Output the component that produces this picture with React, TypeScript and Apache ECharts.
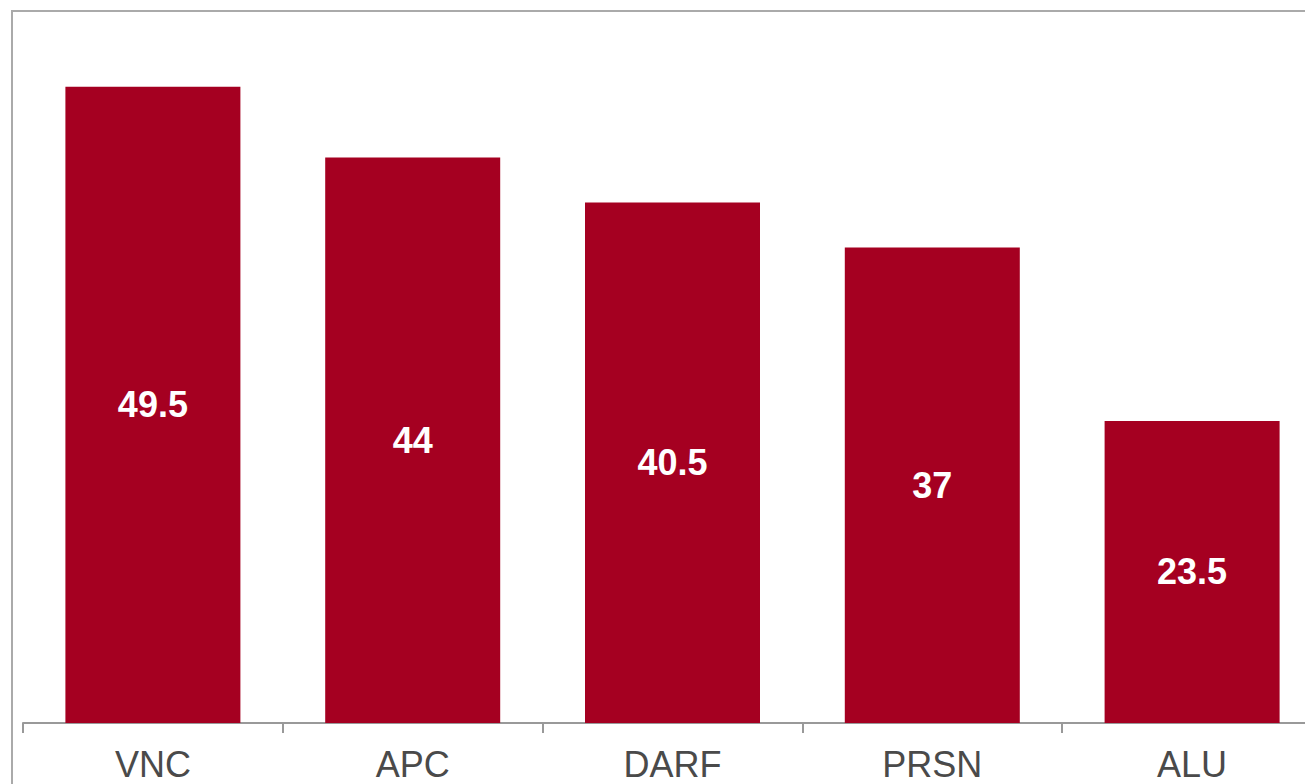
import React, { useEffect, useRef } from "react";
import * as echarts from "echarts";

const categories = ["VNC", "APC", "DARF", "PRSN", "ALU"];
const values = [49.5, 44, 40.5, 37, 23.5];

export default function App() {
  const ref = useRef<HTMLDivElement>(null);
  useEffect(() => {
    const chart = echarts.init(ref.current!, null, { renderer: "svg" });
    chart.setOption({
      animation: false,
      backgroundColor: "#ffffff",
      graphic: [
        {
          type: "rect",
          shape: { x: 12, y: 11, width: 1400, height: 900 },
          style: { fill: "none", stroke: "#aaaaaa", lineWidth: 2 },
          silent: true,
          z: -1,
        },
      ],
      grid: { left: 23, top: 16, right: 8, height: 707, containLabel: false },
      xAxis: {
        type: "category",
        data: categories,
        axisLine: { show: true, lineStyle: { color: "#999999", width: 2 } },
        axisTick: { show: true, length: 10, lineStyle: { color: "#999999", width: 2 } },
        axisLabel: {
          color: "#4a4a4a",
          fontSize: 36,
          fontFamily: "Liberation Sans, Arial, sans-serif",
          margin: 23,
        },
      },
      yAxis: {
        type: "value",
        min: 0,
        max: 55,
        show: false,
        splitLine: { show: false },
      },
      series: [
        {
          type: "bar",
          data: values,
          barWidth: 175,
          itemStyle: { color: "#a50021" },
          label: {
            show: true,
            position: "inside",
            color: "#ffffff",
            fontWeight: "bold",
            fontSize: 36,
            fontFamily: "Liberation Sans, Arial, sans-serif",
          },
        },
      ],
    });
    return () => chart.dispose();
  }, []);
  return (
    <div
      style={{
        position: "fixed",
        left: 0,
        top: 0,
        width: 1305,
        height: 784,
        overflow: "hidden",
        background: "#ffffff",
      }}
    >
      <div ref={ref} style={{ width: 1330, height: 784 }} />
    </div>
  );
}
